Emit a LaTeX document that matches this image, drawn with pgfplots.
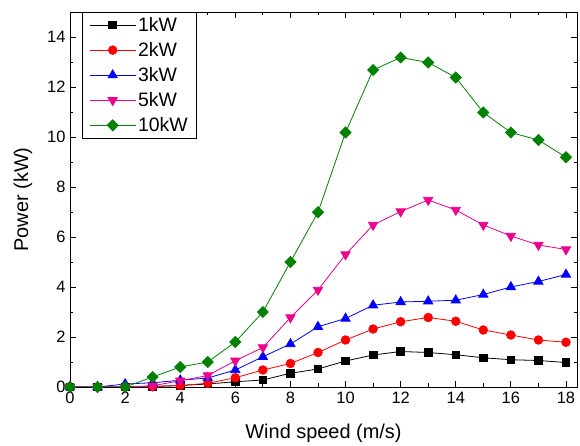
\documentclass[border=0pt]{standalone}
\usepackage{pgfplots}
\pgfplotsset{compat=1.18}
\usepackage{fontspec}
\setmainfont{Liberation Sans}
\definecolor{dgreen}{RGB}{0,128,0}

\begin{document}
\begin{tikzpicture}
\begin{axis}[
    at={(0,0)}, anchor=south west,
    scale only axis, width=507bp, height=375bp,
    xmin=0, xmax=18.4, ymin=0, ymax=15,
    xtick={0,2,...,18}, minor xtick={1,3,...,17},
    ytick={0,2,...,14}, minor ytick={1,3,...,13},
    tick pos=both, tick align=inside,
    major tick length=6bp, minor tick length=3.5bp,
    every tick/.style={black, line width=0.8pt},
    axis line style={line width=0.9pt},
    /pgf/number format/assume math mode=true,
    ticklabel style={font=\fontsize{16.5}{19}\selectfont},
    xticklabel style={yshift=-2bp},
    yticklabel style={xshift=-1bp},
    xlabel={Wind speed (m/s)}, ylabel={Power (kW)},
    label style={font=\fontsize{20}{24}\selectfont},
    xlabel style={yshift=-13bp},
    ylabel style={yshift=8bp},
    legend cell align=left,
    legend style={at={(0,1)}, anchor=north west, xshift=12bp,
        draw=black, line width=0.6pt, font=\fontsize{19.5}{23}\selectfont,
        inner xsep=7bp, inner ysep=3bp, row sep=5.5bp},
    legend image code/.code={\draw[mark repeat=2,mark phase=2] plot coordinates {(0bp,0bp) (23bp,0bp) (46bp,0bp)};},
    every axis plot/.append style={line width=0.8pt},
]
\addplot[black, mark=square*, mark size=3.8bp] coordinates {
    (0,0) (1,0) (2,0) (3,0.02) (4,0.06) (5,0.12) (6,0.21) (7,0.28) (8,0.55)
    (9,0.72) (10,1.04) (11,1.28) (12,1.42) (13,1.38) (14,1.29) (15,1.17)
    (16,1.09) (17,1.06) (18,0.98)
};
\addlegendentry{1kW}
\addplot[red, mark=*, mark size=4.3bp] coordinates {
    (0,0) (1,0) (2,0) (3,0.02) (4,0.06) (5,0.15) (6,0.37) (7,0.68) (8,0.94)
    (9,1.38) (10,1.88) (11,2.32) (12,2.61) (13,2.78) (14,2.63) (15,2.28)
    (16,2.08) (17,1.88) (18,1.79)
};
\addlegendentry{2kW}
\addplot[blue, mark=triangle*, mark size=5.3bp] coordinates {
    (0,0) (1,0) (2,0.12) (3,0.17) (4,0.27) (5,0.36) (6,0.68) (7,1.21) (8,1.72)
    (9,2.41) (10,2.74) (11,3.27) (12,3.40) (13,3.43) (14,3.47) (15,3.70)
    (16,4.00) (17,4.22) (18,4.50)
};
\addlegendentry{3kW}
\addplot[magenta, mark=triangle*, mark options={rotate=180}, mark size=5.3bp] coordinates {
    (0,0) (1,0) (2,0) (3,0.05) (4,0.25) (5,0.46) (6,1.05) (7,1.58) (8,2.78)
    (9,3.88) (10,5.30) (11,6.48) (12,7.02) (13,7.48) (14,7.08) (15,6.48)
    (16,6.04) (17,5.68) (18,5.50)
};
\addlegendentry{5kW}
\addplot[dgreen, mark=square*, mark options={rotate=45}, mark size=3.9bp] coordinates {
    (0,0) (1,0) (2,0) (3,0.40) (4,0.80) (5,1.00) (6,1.80) (7,3.00) (8,5.00)
    (9,6.99) (10,10.18) (11,12.68) (12,13.18) (13,12.98) (14,12.38) (15,10.98)
    (16,10.18) (17,9.88) (18,9.19)
};
\addlegendentry{10kW}
\end{axis}
\useasboundingbox (-70bp,-58bp) rectangle (510bp,387bp);
\end{tikzpicture}
\end{document}
